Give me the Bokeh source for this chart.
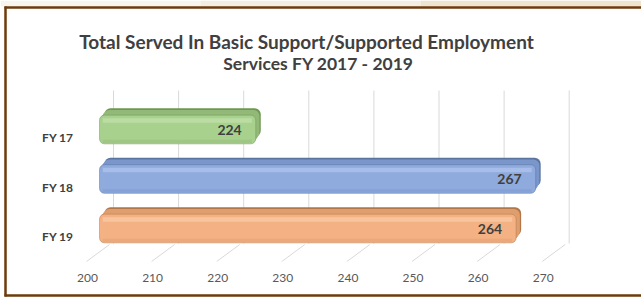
from bokeh.plotting import figure
from bokeh.models import Range1d, ColumnDataSource
from bokeh.core.properties import value
from bokeh.embed import file_html
from bokeh.resources import INLINE

# ---- data ----
categories = ["FY 17", "FY 18", "FY 19"]
served = [224, 267, 264]
x_ticks = [200, 210, 220, 230, 240, 250, 260, 270]
tick_labels = ["200", "210", "220", "230", "240", "250", "260", "270"]
title_lines = ["Total Served In Basic Support/Supported Employment",
               "Services FY 2017 - 2019"]

front_colors = ["#A9D18E", "#8FAADC", "#F4B183"]
top_colors = ["#92B977", "#7A96CB", "#DF9E6E"]
edge_colors = ["#6F9652", "#58749F", "#B27648"]
light_colors = ["#C3E2AE", "#AFC6EE", "#F9CCA8"]

# ---- layout (page pixels) ----
W, H = 641, 297
SX = 6.51      # px per value unit
SY = 49.5      # px per category step
X0_PX = 99     # page x of axis minimum
Y0_PX = 228    # page y of the lowest category
XMIN = 200

def ux(px):
    return XMIN + (px - X0_PX) / SX

def uy(py):
    return (Y0_PX - py) / SY

n = len(categories)
ypos = [n - 1 - i for i in range(n)]

p = figure(width=W, height=H, output_backend="svg", toolbar_location=None,
           x_range=Range1d(ux(0), ux(W)), y_range=Range1d(uy(H), uy(0)),
           min_border=0, background_fill_color="white", border_fill_color="white")
p.axis.visible = False
p.grid.visible = False
p.outline_line_color = None

# slide background strip above the chart box
p.quad(left=[ux(0), ux(200), ux(420)], right=[ux(200), ux(420), ux(641)],
       bottom=[uy(6)] * 3, top=[uy(0)] * 3,
       fill_color=["#F8F5EF", "#F4EDE1", "#EFE4D0"], line_color=None)

# chart box border (left, top, bottom)
brd = "#6E3B0C"
p.segment(x0=[ux(5), ux(4), ux(4)], y0=[uy(6), uy(7), uy(295)],
          x1=[ux(5), ux(641), ux(641)], y1=[uy(296), uy(7), uy(295)],
          line_color=brd, line_width=2.5)

# back-wall gridlines and floor lines
gx = [t + 14 / SX for t in x_ticks]
p.segment(x0=gx, y0=[uy(90)] * len(x_ticks), x1=gx, y1=[uy(243)] * len(x_ticks),
          line_color="#D9D9D9", line_width=1)
p.segment(x0=[t + 10 / SX for t in x_ticks], y0=[uy(244)] * len(x_ticks),
          x1=[t - 13 / SX for t in x_ticks], y1=[uy(261)] * len(x_ticks),
          line_color="#D9D9D9", line_width=1)

# tick labels (front plane)
p.text(x=x_ticks, y=[uy(277)] * len(x_ticks), text=tick_labels, x_offset=-12,
       text_align="center", text_baseline="middle", text_color="#595959",
       text_font=value("Lato"), text_font_size="12px")

# bars with 3D look
H_BAR = 0.58
DX = 5 / SX
DY = 7 / SY
src = ColumnDataSource(dict(
    y=ypos, right=served, cat=categories,
    front=front_colors, top=top_colors, edge=edge_colors, light=light_colors,
    lbl=[str(v) for v in served],
))
for k, f in enumerate([1.0, 0.75, 0.5, 0.25]):
    src.data[f"y_d{k}"] = [y + DY * f for y in ypos]
    src.data[f"r_d{k}"] = [v + DX * f for v in served]
    p.hbar(y=f"y_d{k}", left=XMIN + DX * f, right=f"r_d{k}", height=H_BAR,
           source=src, fill_color="edge" if k == 0 else "top",
           line_color=None, border_radius=6)
src.data["y_hi"] = [y + 0.18 for y in ypos]
src.data["r_hi"] = [v - 0.6 for v in served]
src.data["y_lo"] = [y - 0.24 for y in ypos]

p.hbar(y="y", left=XMIN, right="right", height=H_BAR, source=src,
       fill_color="front", line_color="edge", line_width=0.8, line_alpha=0.6,
       border_radius=5)
p.hbar(y="y_hi", left=XMIN + 0.5, right="r_hi", height=0.09, source=src,
       fill_color="light", fill_alpha=0.7, line_color=None)
p.hbar(y="y_lo", left=XMIN + 0.5, right="r_hi", height=0.07, source=src,
       fill_color="top", fill_alpha=0.45, line_color=None)

# value labels
p.text(x="right", y="y", text="lbl", source=src, x_offset=-14,
       text_align="right", text_baseline="middle", text_color="#404040",
       text_font=value("Lato"), text_font_style="bold", text_font_size="14px")

# category labels
p.text(x=[XMIN] * n, y=ypos, text=categories, x_offset=-26, y_offset=8,
       text_align="right", text_baseline="middle", text_color="#404040",
       text_font=value("Lato"), text_font_style="bold", text_font_size="12px")

# title
p.text(x=[ux(306)], y=[uy(41)], text=title_lines[:1],
       text_align="center", text_baseline="middle", text_color="#404040",
       text_font=value("Lato"), text_font_style="bold", text_font_size="19px")
p.text(x=[ux(318)], y=[uy(63)], text=title_lines[1:],
       text_align="center", text_baseline="middle", text_color="#404040",
       text_font=value("Lato"), text_font_style="bold", text_font_size="17.5px")

open("out.html", "w").write(file_html(p, INLINE))
